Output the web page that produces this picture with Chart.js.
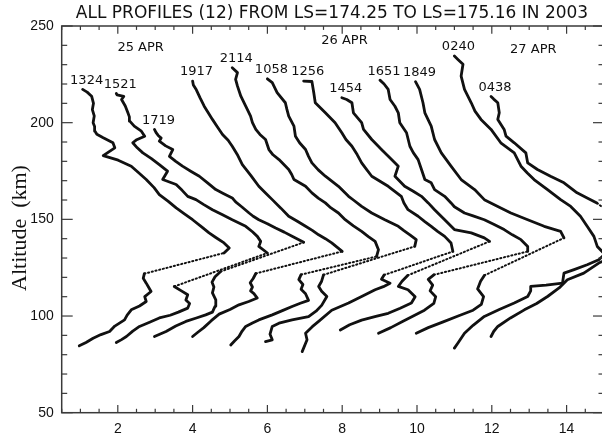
<!DOCTYPE html>
<html>
<head>
<meta charset="utf-8">
<script src="https://cdn.jsdelivr.net/npm/chart.js@4.4.1/dist/chart.umd.min.js"></script>
<style>
  html,body{margin:0;padding:0;background:#fff;overflow:hidden;}
  #wrap{position:absolute;left:0;top:0;width:612px;height:439px;}
</style>
</head>
<body>
<div id="wrap"><canvas id="c" width="612" height="439"></canvas></div>
<script>
// ---- DATA: each profile as [x, altitude(km)] pairs, bottom -> top ----
const profileLabels = ['1324','1521','1719','1917','2114','1058','1256','1454','1651','1849','0240','0438'];
const dateLabels = ['25 APR','26 APR','27 APR'];
const xTickLabels = [2,4,6,8,10,12,14];
const yTickLabels = [50,100,150,200,250];

const p1324 = [[0.97,84.6],[1.15,86.3],[1.34,88.5],[1.55,90.4],[1.78,92],[1.92,94.8],[2.18,98],[2.25,100.5],[2.36,103.2],[2.58,105.2],[2.76,107.5],[2.72,110],[2.89,112.7],[2.82,115],[2.76,117],[2.68,119.5],[2.71,121.9],
 [4.84,132.6],[4.98,135.2],[4.84,137.8],[4.62,140.6],[4.44,143],[4.25,146],[4.0,149.8],[3.8,152.6],[3.56,155.9],[3.35,159.3],[3.11,162.8],[2.97,166.4],[2.76,170.6],[2.55,174.2],[2.36,177.5],[2.01,180.6],[1.61,183],[1.92,187],[1.87,189.6],[1.61,192.2],[1.44,194],[1.39,195.6],[1.38,198],[1.34,200],[1.37,203.5],[1.32,206.8],[1.35,210],[1.30,213.7],[1.18,215.8],[1.06,217.2]];
const p1521 = [[1.96,86.3],[2.1,87.8],[2.23,89.4],[2.4,92.2],[2.58,94.6],[2.85,96.8],[3.11,99],[3.4,100.4],[3.62,102],[3.87,104.1],[3.92,106.5],[3.82,108.3],[3.87,111],[3.7,113],[3.51,115.3],
 [6.0,132.6],[5.77,136],[5.82,138.6],[5.73,141.2],[5.6,143.6],[5.42,146.4],[5.06,149.8],[4.8,152.4],[4.53,155],[4.3,157.6],[4.09,160.2],[3.87,161.9],[3.72,165],[3.56,168],[3.20,170.6],[3.33,174.9],[3.11,178.3],[2.9,181.4],[2.67,184.4],[2.52,187],[2.40,189.6],[2.49,191],[2.72,193],[2.63,195.6],[2.44,198.2],[2.32,200.8],[2.31,203],[2.27,205.1],[2.2,208.6],[2.10,212],[2.16,213.6],[1.98,214.4],[1.96,215.1]];
const p1719 = [[2.98,89.4],[3.12,90.6],[3.29,92],[3.55,94.8],[3.82,97.2],[4.1,99],[4.35,100.6],[4.53,102],[4.6,105],[4.62,108.4],[4.53,112],[4.57,115],[4.52,117.5],[4.6,120.3],[4.75,123],
 [6.97,138.1],[6.66,141.2],[6.45,143.4],[6.22,145.5],[6.0,147.7],[5.77,149.8],[5.62,151.6],[5.51,153.3],[5.32,156.4],[5.15,159],[5.06,161.1],[4.82,163.4],[4.62,165.4],[4.4,168.9],[4.18,172.3],[3.95,174.9],[3.73,177.5],[3.55,180],[3.38,182.6],[3.47,186.1],[3.28,188],[3.11,190.4],[3.16,192],[3.08,193.4],[3.02,195],[2.98,196.5]];
const p1917 = [[4.0,89.4],[4.14,91.6],[4.3,94],[4.5,97.6],[4.71,101],[5.0,103.4],[5.24,105.8],[5.5,107.5],[5.73,109.3],[5.64,111.6],[5.55,113],[5.6,115],[5.54,117.2],[5.62,119.4],[5.69,122],
 [8.0,133.4],[7.86,135.6],[7.72,137.8],[7.55,140],[7.37,142],[7.2,144.3],[7.02,146.4],[6.8,149],[6.57,151.6],[6.36,155.8],[6.13,160.2],[5.95,163.6],[5.77,167.1],[5.56,172.6],[5.33,178.3],[5.21,183],[5.06,187.8],[4.95,190.9],[4.8,193.9],[4.66,197.9],[4.53,201.7],[4.41,205.4],[4.31,208.5],[4.2,212.8],[4.1,217],[4.02,219.5],[4.0,221.5]];
const p2114 = [[5.02,85],[5.12,87.1],[5.24,89.4],[5.32,92.1],[5.42,94.6],[5.6,96.4],[5.77,98],[6.13,100.6],[6.4,102.8],[6.66,104.9],[6.88,106.6],[7.1,108.1],[7.02,111.5],[6.9,113.8],[6.95,116.3],[6.84,118.8],[6.9,121.4],
 [8.92,130.8],[8.97,134.3],[8.88,138.6],[8.7,141.1],[8.52,143.8],[8.3,146.6],[8.08,149.8],[7.9,153.3],[7.7,155.9],[7.55,158.5],[7.36,161],[7.19,163.7],[7.02,167.1],[6.71,170.6],[6.65,173.2],[6.57,175.8],[6.31,180.9],[6.15,183.4],[6.04,186.1],[5.95,191.3],[5.8,193.9],[5.69,196.5],[5.6,200],[5.55,203.4],[5.42,208.5],[5.29,213.7],[5.2,218.9],[5.15,222.4],[5.2,225.9],[5.06,228.4]];
const p1058 = [[5.95,86.8],[6.13,87.7],[6.07,90.6],[6.13,94.6],[6.31,96.3],[6.66,98],[7.1,99.7],[7.3,102.5],[7.45,105.5],[7.59,110.1],[7.45,112.8],[7.37,115.3],[7.45,118],[7.50,121.3],
 [9.94,136],[9.98,139.5],[9.81,142],[9.65,144.2],[9.5,146.4],[9.14,149.8],[8.79,153.3],[8.52,156.7],[8.3,160],[8.17,161.9],[7.9,167.1],[7.55,172.3],[7.36,175.6],[7.19,179.2],[7.1,182.6],[7.02,186.1],[6.86,189.6],[6.75,193],[6.71,198.2],[6.57,203.4],[6.52,207],[6.48,210.3],[6.26,215.5],[6.13,220.7],[6.0,222.7]];
const p1256 = [[6.93,81.6],[7.06,87.7],[7.02,91.1],[7.2,94.5],[7.37,97.2],[7.72,103],[8.17,106.7],[8.52,110.1],[8.88,113.6],[9.1,115.2],[9.28,117],[9.05,119],[9.12,121.2],
 [10.96,133.4],[10.91,137.8],[10.74,141.2],[10.55,143.8],[10.38,146.4],[10.2,149],[10.03,151.6],[9.76,155],[9.65,158.5],[9.58,161.9],[9.23,167.1],[8.79,172.3],[8.65,175.8],[8.52,179.2],[8.4,183.5],[8.26,187.8],[8.1,191.3],[7.99,194.8],[7.81,200],[7.55,205.1],[7.28,210.3],[7.24,215.5],[7.19,221.3],[6.97,221.5]];
const p1454 = [[7.95,92.8],[8.2,95.5],[8.52,97.9],[8.9,99.8],[9.23,101.4],[9.55,104],[9.85,106.7],[9.95,110],[9.76,113.6],[9.5,115.3],[9.6,118],[9.75,121],
 [11.94,138.6],[11.8,140.4],[11.45,143],[11.0,144.7],[10.74,149.8],[10.47,155],[10.3,158.5],[10.12,161.9],[9.9,164.5],[9.67,167.1],[9.41,172.3],[9.5,177.5],[9.32,180.9],[9.05,186.1],[8.79,191.3],[8.57,196.5],[8.52,200],[8.3,205.1],[8.26,210.3],[8.12,212],[7.99,212.9]];
const p1651 = [[8.97,91.1],[9.3,94],[9.6,97],[9.9,100],[10.2,103],[10.45,106.5],[10.5,110],[10.35,113],[10.42,116],[10.3,119],[10.45,121.3],
 [12.96,133.4],[12.96,136],[12.78,139.5],[12.55,142],[12.33,144.7],[12.05,147.5],[11.8,149.8],[11.5,151.8],[11.27,153.3],[11.0,156.5],[10.91,158.5],[10.74,161.9],[10.47,165.4],[10.38,168.9],[10.21,170.6],[10.12,175.8],[10.03,180.9],[9.9,184.5],[9.81,187.8],[9.72,194.8],[9.54,200],[9.5,205.1],[9.41,208.5],[9.28,212],[9.23,217.2],[9.12,220],[9.01,222]];
const p1849 = [[9.98,91.1],[10.3,94],[10.7,97],[11.1,100],[11.5,103],[11.72,106],[11.78,110],[11.62,114],[11.7,118],[11.8,121],
 [13.93,140.4],[13.84,143.8],[13.4,146.4],[12.96,149.8],[12.51,153.3],[12.16,156.7],[11.8,160.2],[11.54,165.4],[11.18,170.6],[10.91,177.5],[10.65,184.4],[10.47,191.3],[10.38,198.2],[10.21,205.1],[10.16,210.3],[10.07,217.2],[9.96,221.2]];
const p0240 = [[11.0,83.4],[11.1,86.2],[11.27,91.1],[11.5,95.2],[11.8,99.8],[12.2,103.4],[12.6,106.7],[12.96,110.1],[13.04,113],[13.04,115.3],[13.45,116],[13.89,117],[13.93,122.2],[14.2,124],[14.55,126.5],[14.86,129.1],[15.02,132],[14.82,136],[14.73,141.2],[14.55,146.4],[14.37,151.6],[14.11,156.7],[13.84,160.2],[13.49,165.4],[13.13,170.6],[12.95,174],[12.78,177.5],[12.6,184.4],[12.24,189.6],[11.98,196.5],[11.71,201.7],[11.55,206],[11.45,210.3],[11.27,217.2],[11.18,224.1],[11.23,230.2],[11.1,232.6],[11.0,234.5]];
const p0438 = [[11.98,89.4],[12.05,92],[12.16,94.6],[12.5,99],[12.87,103.2],[13.2,106.5],[13.49,110.1],[13.8,114.5],[14.02,118.8],[14.46,122.2],[14.86,127.4],[15.3,131],[15.9,136],[15.5,148],[14.81,158.5],[14.55,161.1],[14.28,163.7],[13.93,168.9],[13.57,172.3],[13.22,175.8],[12.96,179.2],[12.91,184.4],[12.6,189.6],[12.38,193],[12.33,196.5],[12.16,201.7],[12.2,205.1],[12.16,210.3],[12.05,212.2],[11.98,213.5]];

const profiles = [p1324,p1521,p1719,p1917,p2114,p1058,p1256,p1454,p1651,p1849,p0240,p0438];

// annotation placement (data coords) for the date captions
const dateX = [2.61, 8.06, 13.11];
const dateAlt = [238.6, 242.2, 237.6];

const LONG = 22;
function segLen(ctx){ return Math.hypot(ctx.p1.x-ctx.p0.x, ctx.p1.y-ctx.p0.y); }

const datasets = profiles.map((p,i)=>({
  label: profileLabels[i],
  data: p.map(([x,y])=>({x,y})),
  showLine: true,
  borderColor: '#111',
  borderWidth: 2.8,
  pointRadius: 0,
  tension: 0,
  borderJoinStyle: 'round',
  borderCapStyle: 'round',
  segment: {
    borderWidth: ctx => segLen(ctx) > LONG ? 2.0 : undefined,
    borderDash: ctx => segLen(ctx) > LONG ? [1.2,2.6] : undefined
  }
}));

function isMult(v,m){ return Math.abs(v - Math.round(v/m)*m) < 1e-6; }

const overlay = {
  id: 'overlay',
  afterDraw(chart){
    const {ctx, chartArea:a, scales:{x,y}} = chart;
    ctx.save();
    function ln(x1,y1,x2,y2){ ctx.beginPath(); ctx.moveTo(x1,y1); ctx.lineTo(x2,y2); ctx.stroke(); }
    ctx.strokeStyle = '#3a3a3a';
    ctx.lineWidth = 1.5;
    ctx.strokeRect(a.left, a.top, a.right-a.left, a.bottom-a.top);
    ctx.lineWidth = 1.2;
    x.ticks.forEach(t=>{
      const px = x.getPixelForValue(t.value);
      const L = isMult(t.value,2) ? 7.7 : 3.9;
      ln(px,a.bottom,px,a.bottom-L); ln(px,a.top,px,a.top+L);
    });
    y.ticks.forEach(t=>{
      const py = y.getPixelForValue(t.value);
      const L = isMult(t.value,50) ? 11 : 5.5;
      ln(a.left,py,a.left+L,py); ln(a.right,py,a.right-L,py);
    });
    // title
    ctx.fillStyle = '#111';
    ctx.font = '17px "DejaVu Sans"';
    ctx.textAlign = 'center'; ctx.textBaseline = 'middle';
    ctx.fillText('ALL PROFILES (12) FROM LS=174.25 TO LS=175.16 IN 2003', 332, 13.5);
    // y axis title
    ctx.save();
    ctx.translate(20, 228);
    ctx.rotate(-Math.PI/2);
    ctx.font = '22px "Liberation Serif"';
    ctx.fillText('Altitude  (km)', 0, 0);
    ctx.restore();
    // profile labels above each profile top
    ctx.font = '13px "DejaVu Sans"';
    profiles.forEach((p,i)=>{
      const top = p[p.length-1];
      const px = x.getPixelForValue(top[0]);
      const py = y.getPixelForValue(top[1]);
      ctx.fillText(profileLabels[i], px+4, py-9);
    });
    dateLabels.forEach((s,i)=>{
      ctx.fillText(s, x.getPixelForValue(dateX[i]), y.getPixelForValue(dateAlt[i]));
    });
    ctx.restore();
  }
};

new Chart(document.getElementById('c'), {
  type: 'scatter',
  data: { datasets },
  options: {
    responsive: false,
    animation: false,
    events: [],
    layout: { padding: { top: 26, right: 5, left: 0, bottom: 0 } },
    plugins: { legend: { display: false }, tooltip: { enabled: false }, title: { display: false } },
    scales: {
      x: {
        type: 'linear', min: 0.5, max: 15,
        grid: { display: false, drawTicks: false },
        border: { display: false },
        ticks: {
          stepSize: 0.5, autoSkip: false, maxRotation: 0, padding: 8,
          color: '#111', font: { family: 'Liberation Sans', size: 14 },
          callback: v => xTickLabels.includes(Math.round(v*100)/100) ? String(Math.round(v)) : ''
        },
        afterFit: s => { s.height = 26.3; }
      },
      y: {
        type: 'linear', min: 50, max: 250,
        grid: { display: false, drawTicks: false },
        border: { display: false },
        ticks: {
          stepSize: 10, autoSkip: false, padding: 8,
          color: '#111', font: { family: 'Liberation Sans', size: 14 },
          callback: v => yTickLabels.includes(Math.round(v)) && isMult(v,50) ? String(Math.round(v)) : ''
        },
        afterFit: s => { s.width = 61.7; }
      }
    }
  },
  plugins: [overlay]
});
</script>
</body>
</html>
